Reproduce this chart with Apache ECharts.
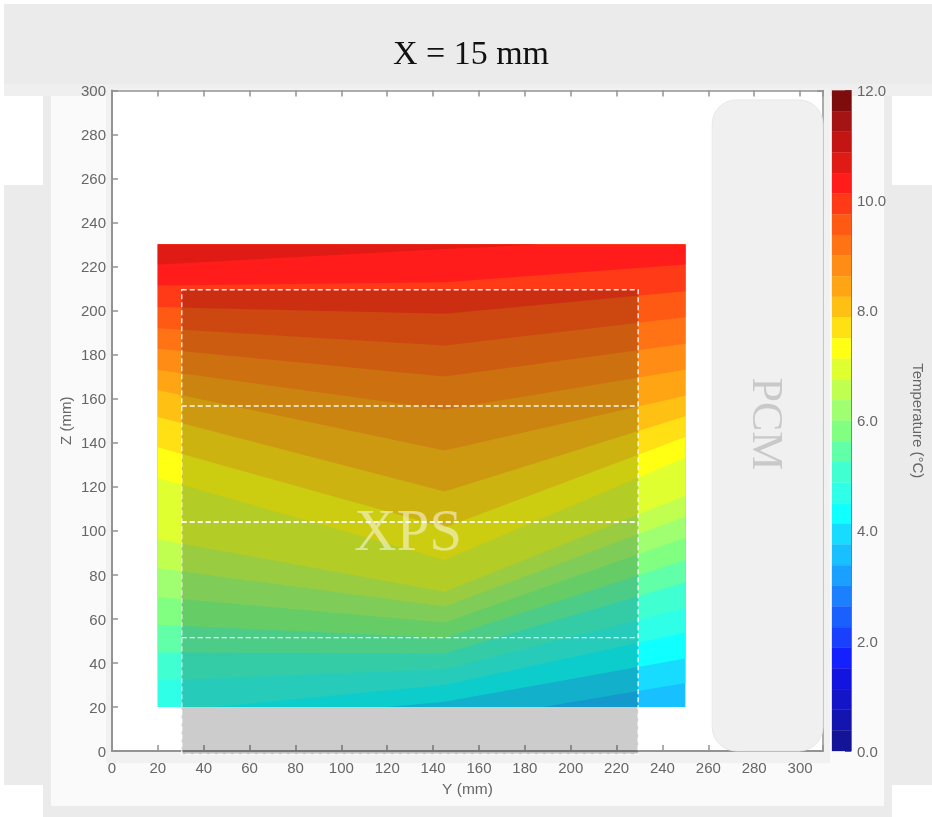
<!DOCTYPE html>
<html>
<head>
<meta charset="utf-8">
<style>html,body{margin:0;padding:0;background:#fff}#c{width:932px;height:817px}</style>
<script src="https://cdn.jsdelivr.net/npm/echarts@6/dist/echarts.min.js"></script>
</head>
<body>
<div id="c"></div>
<script>
// ---- data (all in mm / deg C) ----
const title = 'X = 15 mm';
const xTicksMax = 310, zTicksMax = 300, tickStep = 20;
const tempMin = 0, tempMax = 12, tempStep = 2, tempBandCount = 32;
// colour of each temperature band, hottest first
const bandPalette = ['#7e0c0c','#a51414','#c51414','#e01a14','#ff1c1a','#ff3a16','#ff5a14','#ff7314','#ff8c14','#ffa514','#ffc014','#ffe014','#ffff14','#e0ff30','#c0ff50','#a0ff70','#80ff80','#60ffa8','#40ffd0','#30ffe8','#10ffff','#18dcff','#18c0ff','#1aa0ff','#1a80ff','#1a60ff','#1a40ff','#1420ff','#1414e0','#1414c8','#1414b0','#141498'];
// domain of the contour field [yMin, yMax, zMin, zMax]
const fieldDomain = [20, 250, 20, 230];
// first (coolest) band shown in the field, as an index in bandPalette
const coolestBand = 22;
// contour lines [y, z], coolest first, each is the upper limit of the band below it
const contourLines = [
  [[20,20],[250,20]],
  [[20,20],[188,20],[250,30.9]],
  [[20,20],[120,20],[145,22.4],[250,42]],
  [[20,20],[44,20],[145,30],[250,53.8]],
  [[20,32],[145,37.3],[250,64.9]],
  [[20,44.7],[145,44.4],[250,76.6]],
  [[20,57.3],[145,51.4],[250,86.8]],
  [[20,70],[145,58.4],[250,97]],
  [[20,83],[145,65.6],[250,106.5]],
  [[20,96.2],[145,72.3],[250,115.9]],
  [[20,124],[145,86.8],[250,133.3]],
  [[20,138],[145,101.5],[250,142.6]],
  [[20,151.7],[145,117.9],[250,152]],
  [[20,163.8],[145,136.5],[250,161.4]],
  [[20,173],[145,155],[250,173.2]],
  [[20,182.7],[145,170.1],[250,185]],
  [[20,192],[145,184.2],[250,197]],
  [[20,201.7],[145,198.6],[250,208.8]],
  [[20,211.4],[145,212.9],[250,221]],
  [[20,221],[145,228],[186.7,230],[250,230]]
];
// XPS block and PCM block, [yMin, yMax, zMin, zMax]
const xpsBlock = [30.4, 229.4, -1.4, 209.5];
const xpsLayerLines = [156.7, 104, 51.5];
const pcmBlock = [261.7, 310, 0, 295.7];

// ---- chart ----
const chart = echarts.init(document.getElementById('c'), null, {renderer:'canvas'});
const SANS = '"Liberation Sans", Arial, sans-serif';
const SERIF = '"Liberation Serif", "Times New Roman", serif';
const AX = '#939393', LAB = '#666666';

function bg(x,y,w,h,fill,z){return {type:'rect',shape:{x:x,y:y,width:w,height:h},style:{fill:fill},z:z||-10,silent:true};}

const graphics = [
  bg(4,4,928,80,'#ebebeb'),
  bg(4,84,928,12,'#efefef'),
  bg(4,185,39,600,'#ebebeb'),
  bg(892,185,40,600,'#ebebeb'),
  bg(43,96,849,721,'#ebebeb'),
  bg(51,96,833,710,'#fafafa'),
  bg(106,88,724,675,'#f1f1f1'),
  {type:'text',x:471,y:55.5,style:{text:title,font:'34px '+SERIF,fill:'#111',align:'center',verticalAlign:'middle'},z:20},
  {type:'text',x:408,y:534,style:{text:'XPS',font:'59px '+SERIF,fill:'rgba(255,255,255,0.5)',align:'center',verticalAlign:'middle'},z:20},
  {type:'text',x:765,y:424,rotation:-Math.PI/2,style:{text:'PCM',font:'44px '+SERIF,fill:'#c9c9c9',align:'center',verticalAlign:'middle'},z:20}
];

function poly(api,pts,style){
  return {type:'polygon',shape:{points:pts.map(p=>api.coord(p))},style:style};
}
function rectPts(b){return [[b[0],b[3]],[b[1],b[3]],[b[1],b[2]],[b[0],b[2]]];}

const xLabelFmt = v => v > 300 ? '' : String(v);

const option = {
  animation:false,
  backgroundColor:'#ffffff',
  graphic:{elements:graphics},
  grid:[
    {left:112,top:90.5,width:711,height:660.5,show:true,backgroundColor:'#ffffff',borderWidth:0},
    {left:832,top:90.5,width:19,height:660.5,show:false}
  ],
  xAxis:[
    {type:'value',gridIndex:0,min:0,max:xTicksMax,interval:tickStep,name:'Y (mm)',nameLocation:'middle',nameGap:31,
     nameTextStyle:{color:LAB,fontFamily:SANS,fontSize:15.5},
     axisLine:{show:true,onZero:false,lineStyle:{color:AX,width:2}},
     axisTick:{show:true,inside:true,length:6,lineStyle:{color:AX,width:1.5}},
     axisLabel:{color:LAB,fontFamily:SANS,fontSize:15,margin:10,formatter:xLabelFmt,showMaxLabel:true},
     splitLine:{show:false}},
    {type:'value',gridIndex:0,position:'top',min:0,max:xTicksMax,interval:tickStep,
     axisLine:{show:true,onZero:false,lineStyle:{color:AX,width:1.5}},
     axisTick:{show:true,inside:true,length:6,lineStyle:{color:AX,width:1.5}},
     axisLabel:{show:false},splitLine:{show:false}},
    {type:'value',gridIndex:1,min:0,max:1,show:false}
  ],
  yAxis:[
    {type:'value',gridIndex:0,min:0,max:zTicksMax,interval:tickStep,name:'Z (mm)',nameLocation:'middle',nameGap:38,nameRotate:90,nameMoveOverlap:false,
     nameTextStyle:{color:LAB,fontFamily:SANS,fontSize:15},
     axisLine:{show:true,onZero:false,lineStyle:{color:AX,width:2}},
     axisTick:{show:true,inside:true,length:6,lineStyle:{color:AX,width:1.5}},
     axisLabel:{color:LAB,fontFamily:SANS,fontSize:15,margin:6,verticalAlign:'top',lineHeight:3},
     splitLine:{show:false}},
    {type:'value',gridIndex:0,position:'right',min:0,max:zTicksMax,interval:tickStep,
     axisLine:{show:true,onZero:false,lineStyle:{color:AX,width:1.5}},
     axisTick:{show:true,inside:true,length:6,lineStyle:{color:AX,width:1.5}},
     axisLabel:{show:false},splitLine:{show:false}},
    {type:'value',gridIndex:1,position:'right',min:tempMin,max:tempMax,interval:tempStep,
     name:'Temperature (°C)',nameLocation:'middle',nameRotate:-90,nameGap:59,nameMoveOverlap:false,
     nameTextStyle:{color:LAB,fontFamily:SANS,fontSize:15},
     axisLine:{show:true,onZero:false,lineStyle:{color:'#777',width:1}},
     axisTick:{show:true,inside:true,length:6,lineStyle:{color:'#666',width:1}},
     axisLabel:{color:LAB,fontFamily:SANS,fontSize:15,margin:6,verticalAlign:'top',lineHeight:3,formatter:v=>v.toFixed(1)},
     splitLine:{show:false}}
  ],
  series:[
    // PCM block
    {type:'custom',xAxisIndex:0,yAxisIndex:0,z:1,silent:true,data:[0],clip:false,
     renderItem:function(p,api){
       const a=api.coord([pcmBlock[0],pcmBlock[3]]),b=api.coord([pcmBlock[1],pcmBlock[2]]);
       return {type:'rect',shape:{x:a[0],y:a[1],width:b[0]-a[0],height:b[1]-a[1],r:24},style:{fill:'#f0f0f0',stroke:'#e8e8e8',lineWidth:1}};
     }},
    // contour bands, cool first, each painted from its line up to the top of the field
    {type:'custom',xAxisIndex:0,yAxisIndex:0,z:2,silent:true,clip:false,
     data:contourLines.map((l,i)=>i),
     renderItem:function(p,api){
       const i=api.value(0);
       const d=fieldDomain;
       const pts=contourLines[i].concat([[d[1],d[3]],[d[0],d[3]]]);
       return poly(api,pts,{fill:bandPalette[coolestBand-i],stroke:null});
     }},
    // XPS overlay
    {type:'custom',xAxisIndex:0,yAxisIndex:0,z:5,silent:true,clip:false,data:[0],
     renderItem:function(p,api){
       const pts=rectPts(xpsBlock);
       const kids=[poly(api,pts,{fill:'rgba(0,0,0,0.2)'})];
       kids.push(poly(api,pts,{fill:'none',stroke:'rgba(255,255,255,0.9)',lineWidth:1.4,lineDash:[5,3]}));
       xpsLayerLines.forEach((z,k)=>{
         const a=api.coord([xpsBlock[0],z]),b=api.coord([xpsBlock[1],z]);
         kids.push({type:'line',shape:{x1:a[0],y1:a[1],x2:b[0],y2:b[1]},
           style:{stroke:'rgba(255,255,255,0.92)',lineWidth:k===1?2:1.4,lineDash:[5,3]}});
       });
       return {type:'group',children:kids};
     }},
    // colour bar
    {type:'custom',xAxisIndex:2,yAxisIndex:2,z:2,silent:true,clip:false,
     data:bandPalette.map((c,i)=>i),
     renderItem:function(p,api){
       const i=api.value(0);
       const step=(tempMax-tempMin)/tempBandCount;
       const a=api.coord([0,tempMax-i*step]),b=api.coord([1,tempMax-(i+1)*step]);
       return {type:'rect',shape:{x:a[0],y:a[1],width:b[0]-a[0],height:b[1]-a[1]},style:{fill:bandPalette[i],stroke:bandPalette[i],lineWidth:0.3}};
     }}
  ]
};
chart.setOption(option);
</script>
</body>
</html>
